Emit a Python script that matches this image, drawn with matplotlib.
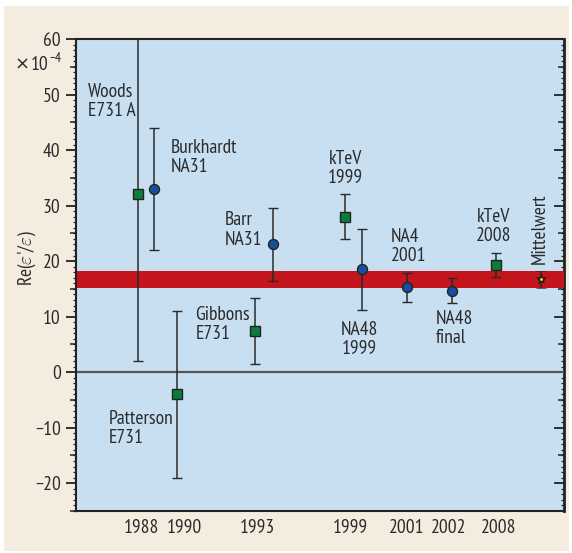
import matplotlib
matplotlib.use("Agg")
import matplotlib.pyplot as plt
from matplotlib import font_manager
from matplotlib.patches import Rectangle
from matplotlib.ticker import MultipleLocator, FixedLocator, NullFormatter

# ---------------- data ----------------
names = ["Woods\nE731 A", "Burkhardt\nNA31", "Patterson\nE731", "Gibbons\nE731",
         "Barr\nNA31", "kTeV\n1999", "NA48\n1999", "NA4\n2001", "NA48\nfinal",
         "kTeV\n2008", "Mittelwert"]
x_pos = [12.7, 16.0, 20.7, 36.8, 40.3, 55.2, 58.6, 67.8, 77.0, 86.1, 95.4]
values = [32.0, 33.0, -4.0, 7.4, 23.0, 28.0, 18.5, 15.3, 14.7, 19.3, 16.7]
errors = [30.0, 11.0, 15.0, 5.9, 6.5, 4.1, 7.3, 2.6, 2.2, 2.2, 1.5]
kinds = ["sq", "ci", "sq", "sq", "ci", "sq", "ci", "ci", "ci", "sq", "star"]

year_ticks = [13.4, 22.2, 37.1, 56.2, 67.7, 76.5, 86.7]
year_labels = ["1988", "1990", "1993", "1999", "2001", "2002", "2008"]

band_low, band_high = 15.1, 18.2

# label layout (x, y, ha)
label_layout = [(2.46, 48.8, "left"), (19.5, 38.7, "left"), (6.8, -10.2, "left"),
                (24.5, 8.65, "left"), (30.6, 25.6, "left"), (55.2, 36.6, "center"),
                (58.2, 5.9, "center"), (64.6, 22.7, "left"), (73.8, 7.9, "left"),
                (85.7, 26.3, "center")]

# ---------------- style ----------------
avail = {f.name for f in font_manager.fontManager.ttflist}
fam = "DejaVu Sans"
for cand in ["PT Sans Narrow", "Fira Sans Condensed", "Liberation Sans Narrow"]:
    if cand in avail:
        fam = cand
        break
plt.rcParams["font.family"] = [fam, "DejaVu Sans"]
plt.rcParams["mathtext.fontset"] = "custom"
plt.rcParams["mathtext.rm"] = fam
plt.rcParams["mathtext.it"] = fam + ":italic"
plt.rcParams["mathtext.bf"] = fam + ":bold"

FS = 14
txt = "#2b2b2b"
green = "#0a7d3b"
blue = "#1450a0"
fig = plt.figure(figsize=(5.72, 5.53), dpi=100, facecolor="white")
fig.patches.append(Rectangle((4 / 572, 2 / 553), 565 / 572, 545 / 553,
                             transform=fig.transFigure, facecolor="#f5ece0",
                             edgecolor="none", zorder=-10))
ax = fig.add_axes([76 / 572, 1 - 511 / 553, 487.7 / 572, 472 / 553])
ax.set_facecolor("#c8dff2")
ax.set_xlim(0, 100)
ax.set_ylim(-25, 60)

ax.axhspan(band_low, band_high, color="#c4141c", zorder=1, lw=0)
ax.axhline(0, color="#555555", lw=1.6, zorder=1.5)

for x, v, e, k in zip(x_pos, values, errors, kinds):
    if k == "sq":
        ax.errorbar(x, v, yerr=e, fmt="s", ms=6.8, mfc=green, mec="#222222", mew=1.0,
                    ecolor="#2a2a2a", elinewidth=1.1, capsize=3.3, capthick=1.1, zorder=3)
    elif k == "ci":
        ax.errorbar(x, v, yerr=e, fmt="o", ms=7.2, mfc=blue, mec="#222222", mew=1.0,
                    ecolor="#2a2a2a", elinewidth=1.1, capsize=3.3, capthick=1.1, zorder=3)
    else:
        ax.errorbar(x, v, yerr=e, fmt="*", ms=8, mfc="#222222", mec="#222222", mew=0.5,
                    ecolor="#2a2a2a", elinewidth=1.1, capsize=3.3, capthick=1.1, zorder=3)
        ax.plot(x, v, "o", ms=1.1, color="#f2d000", zorder=4)

for name, (lx, ly, ha) in zip(names[:-1], label_layout):
    ax.text(lx, ly, name, ha=ha, va="center", fontsize=FS, color=txt, linespacing=1.08)
ax.text(95.0, 19.4, names[-1], rotation=90, ha="center", va="bottom", fontsize=FS, color=txt)

# ticks
ax.set_xticks(year_ticks)
ax.set_xticklabels(year_labels)
ax.tick_params(axis="x", length=0, pad=6, labelsize=FS, labelcolor=txt)

ax.yaxis.set_major_locator(MultipleLocator(10))
ax.yaxis.set_minor_locator(MultipleLocator(1))
ax.yaxis.set_major_formatter(matplotlib.ticker.FuncFormatter(
    lambda v, p: ("\u2212%d" % -v) if v < 0 else "%d" % v))
ax.tick_params(axis="y", which="major", direction="out", length=7, width=1.3,
               pad=4, labelsize=FS, labelcolor=txt, color="#222222",
               left=True, right=False)
ax.tick_params(axis="y", which="minor", direction="out", length=2.5, width=0.9,
               color="#222222", left=True, right=False)

sec = ax.secondary_yaxis("right")
sec.yaxis.set_major_locator(MultipleLocator(10))
sec.yaxis.set_minor_locator(MultipleLocator(1))
sec.yaxis.set_major_formatter(NullFormatter())
sec.tick_params(which="major", direction="in", length=7, width=1.3, color="#222222")
sec.tick_params(which="minor", direction="in", length=2.5, width=0.9, color="#222222")
sec.spines["right"].set_linewidth(2.0)
sec.spines["right"].set_color("#222222")

mid_left = ax.secondary_yaxis("left")
mid_left.yaxis.set_major_locator(FixedLocator([-25, -15, -5, 5, 15, 25, 35, 45, 55]))
mid_left.yaxis.set_major_formatter(NullFormatter())
mid_left.yaxis.set_minor_locator(FixedLocator([]))
mid_left.tick_params(direction="out", length=4.5, width=1.1, color="#222222")
mid_left.spines["left"].set_visible(False)

mid_right = ax.secondary_yaxis("right")
mid_right.yaxis.set_major_locator(FixedLocator([-25, -15, -5, 5, 15, 25, 35, 45, 55]))
mid_right.yaxis.set_major_formatter(NullFormatter())
mid_right.yaxis.set_minor_locator(FixedLocator([]))
mid_right.tick_params(direction="in", length=4.5, width=1.1, color="#222222")
mid_right.spines["right"].set_visible(False)

for s in ["left", "bottom", "top"]:
    ax.spines[s].set_color("#222222")
    ax.spines[s].set_linewidth(1.5)
ax.spines["right"].set_visible(False)

fig.text(27 / 572, 1 - 258 / 553, r"Re($\varepsilon$'/$\varepsilon$)", rotation=90,
         ha="center", va="center", fontsize=FS, color=txt)
# x10^-4 multiplier (drawn in pieces)
fig.text(15 / 572, 1 - 65 / 553, "\u00d7", ha="left", va="center", fontsize=FS - 1,
         color=txt, family="DejaVu Sans")
fig.text(31 / 572, 1 - 65 / 553, "10", ha="left", va="center", fontsize=FS, color=txt)
fig.text(49 / 572, 1 - 58 / 553, "\u22124", ha="left", va="center", fontsize=FS * 0.72,
         color=txt)

fig.savefig("out.png", dpi=100, facecolor="white")
